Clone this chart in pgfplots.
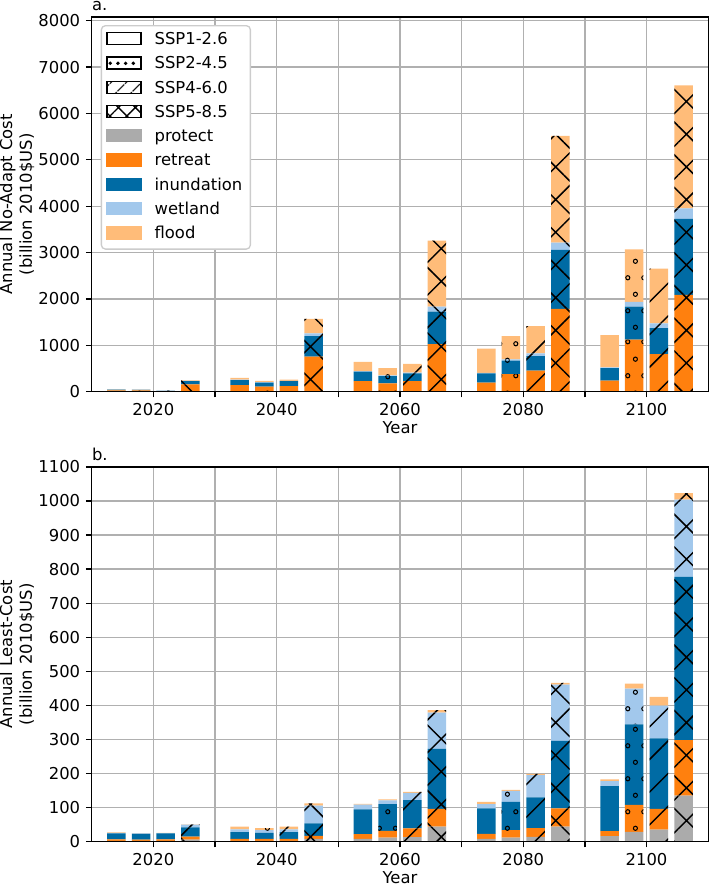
\documentclass[border=0pt]{standalone}
\usepackage{fontspec}
\setmainfont{DejaVu Sans}
\usepackage{pgfplots}
\pgfplotsset{compat=1.18}
\usepackage{pgfplotstable}
\usetikzlibrary{patterns.meta}

\definecolor{cprotect}{HTML}{ABABAB}
\definecolor{cretreat}{HTML}{FF800E}
\definecolor{cinund}{HTML}{006BA4}
\definecolor{cwet}{HTML}{A2C8EC}
\definecolor{cflood}{HTML}{FFBC79}
\definecolor{cgrid}{HTML}{B0B0B0}
\definecolor{clegframe}{HTML}{CCCCCC}

\tikzdeclarepattern{
  name=bigcircles,
  type=uncolored,
  bottom left={(0pt,0pt)},
  top right={(9.8pt,20.4pt)},
  tile size={(9.8pt,20.4pt)},
  code={
    \draw[line width=0.65pt] (2.45pt,5.1pt) circle[radius=1.3pt];
    \draw[line width=0.65pt] (7.35pt,15.3pt) circle[radius=1.3pt];
  }
}

\tikzset{
  hatchA/.style={},
  hatchB/.style={postaction={pattern=bigcircles,pattern color=black}},
  hatchC/.style={postaction={pattern={Lines[angle=45,distance=14.1pt,line width=0.9pt]},pattern color=black}},
  hatchD/.style={postaction={pattern={Hatch[angle=45,distance=14.1pt,line width=0.9pt]},pattern color=black}},
  legpatch/.style={sharp corners, line width=0.8pt},
}

% Panel a: annual no-adapt cost (billion 2010$US)
\pgfplotstableread{
x protect retreat inundation wetland flood
2014 0 30 12 3 5
2034 0 140 110 8 42
2054 0 230 200 15 200
2074 0 194 200 10 523
2094 0 237 273 15 697
}\aOne
\pgfplotstableread{
x protect retreat inundation wetland flood
2018 0 28 12 2 5
2038 0 110 85 10 30
2058 0 180 155 15 160
2078 0 381 288 28 503
2098 0 1121 712 101 1136
}\aTwo
\pgfplotstableread{
x protect retreat inundation wetland flood
2022 0 8 12 2 3
2042 0 120 105 10 25
2062 0 230 165 15 187
2082 0 453 316 58 589
2102 0 812 561 101 1179
}\aThree
\pgfplotstableread{
x protect retreat inundation wetland flood
2026 0 160 70 5 10
2046 0 755 445 58 310
2066 0 1028 697 108 1424
2086 0 1783 1272 158 2301
2106 0 2085 1639 230 2653
}\aFour

% Panel b: annual least-cost (billion 2010$US)
\pgfplotstableread{
x protect retreat inundation wetland flood
2014 2 5 17 2 1
2034 2 6 20 8 8
2054 8 14 73 14 2
2074 8 15 75 12 7
2094 16 15 132 15 5
}\bOne
\pgfplotstableread{
x protect retreat inundation wetland flood
2018 2 4 17 1 1
2038 2 6 18 8 6
2058 12 20 78 11 3
2078 12 22 83 32 3
2098 29 79 236 105 15
}\bTwo
\pgfplotstableread{
x protect retreat inundation wetland flood
2022 2 5 17 1 1
2042 2 6 20 8 8
2062 13 26 83 21 3
2082 14 26 90 65 4
2102 35 61 207 96 26
}\bThree
\pgfplotstableread{
x protect retreat inundation wetland flood
2026 6 9 27 8 1
2046 8 9 37 52 6
2066 44 52 176 107 7
2086 44 54 198 165 5
2106 135 163 479 227 19
}\bFour

\newcommand{\stackbars}[2]{%
  \addplot[fill=cprotect,draw=none,#2] table[x=x,y=protect]{#1};
  \addplot[fill=cretreat,draw=none,#2] table[x=x,y=retreat]{#1};
  \addplot[fill=cinund,draw=none,#2] table[x=x,y=inundation]{#1};
  \addplot[fill=cwet,draw=none,#2] table[x=x,y=wetland]{#1};
  \addplot[fill=cflood,draw=none,#2] table[x=x,y=flood]{#1};
}

\pgfplotsset{
  base/.style={
    width=376.1pt, height=228.6pt, scale only axis,
    xmin=2010, xmax=2110, ymin=0,
    ybar stacked, bar width=3,
  },
  frame/.style={
    grid=major, grid style={draw=cgrid, line width=0.8pt},
    tick align=outside, tick pos=left, major tick length=3.5pt,
    tick style={black, line width=0.8pt},
    axis line style={black, line width=0.8pt},
    xtick={2020,2030,...,2100},
    xticklabels={2020,{},2040,{},2060,{},2080,{},2100},
    xlabel={Year},
    xlabel style={yshift=3pt},
    every axis y label/.style={at={([xshift=-45.6pt]rel axis cs:0,0.5)}, rotate=90, anchor=center, align=center},
    /pgf/number format/1000 sep={},
    /pgf/number format/assume math mode=true,
    tick label style={font=\fontsize{10}{12}\selectfont},
    label style={font=\fontsize{10}{12}\selectfont},
    every axis title/.style={at={(rel axis cs:0,1)}, anchor=base west, inner sep=0pt, yshift=4pt, font=\fontsize{10}{12}\selectfont},
  },
  over/.style={hide axis},
}

\newcommand{\axisframe}{\draw[black,line width=0.8pt] (rel axis cs:0,0) rectangle (rel axis cs:1,1);}

\begin{document}
\begin{tikzpicture}
% ---------- panel a ----------
\begin{axis}[base, frame, ymax=8080, ytick={0,1000,...,8000},
  title={a.}, ylabel={Annual No-Adapt Cost\\(billion 2010\$US)},
  at={(55.94pt,-238.94pt)}, anchor=south west]
\stackbars{\aOne}{hatchA}
\end{axis}
\begin{axis}[base, over, ymax=8080, at={(55.94pt,-238.94pt)}, anchor=south west]
\stackbars{\aTwo}{hatchB}
\end{axis}
\begin{axis}[base, over, ymax=8080, at={(55.94pt,-238.94pt)}, anchor=south west]
\stackbars{\aThree}{hatchC}
\end{axis}
\begin{axis}[base, over, ymax=8080, at={(55.94pt,-238.94pt)}, anchor=south west]
\stackbars{\aFour}{hatchD}
\end{axis}
\begin{axis}[base, over, ymax=8080, clip=false, at={(55.94pt,-238.94pt)}, anchor=south west,
  legend style={at={(0.0146,0.9785)}, anchor=north west,
    draw=clegframe, line width=0.8pt, rounded corners=2.5pt, fill=white,
    inner xsep=3pt, inner ysep=2pt, column sep=6pt, row sep=0.9pt,
    font=\fontsize{10}{12}\selectfont,
    nodes={inner sep=2pt, text height=7.6pt, text depth=2.3pt}},
  legend cell align=left]
\addlegendimage{legend image code/.code={\draw[legpatch,black] (0pt,-2.7pt) rectangle (20.7pt,4.6pt);}}
\addlegendentry{SSP1-2.6}
\addlegendimage{legend image code/.code={\draw[legpatch,black] (0pt,-2.7pt) rectangle (20.7pt,4.6pt);
  \foreach \dx in {2,6.7,11.4,16.1}{\fill[black] (\dx pt,0.8pt) circle[radius=0.6pt];}}}
\addlegendentry{SSP2-4.5}
\addlegendimage{legend image code/.code={\draw[legpatch,black,pattern={Lines[angle=45,distance=6.5pt,line width=0.8pt]}] (0pt,-2.7pt) rectangle (20.7pt,4.6pt);}}
\addlegendentry{SSP4-6.0}
\addlegendimage{legend image code/.code={\draw[legpatch,black,pattern={Hatch[angle=45,distance=7.3pt,line width=0.8pt]}] (0pt,-2.7pt) rectangle (20.7pt,4.6pt);}}
\addlegendentry{SSP5-8.5}
\addlegendimage{legend image code/.code={\fill[legpatch,cprotect] (0pt,-2.7pt) rectangle (20.7pt,4.6pt);}}
\addlegendentry{protect}
\addlegendimage{legend image code/.code={\fill[legpatch,cretreat] (0pt,-2.7pt) rectangle (20.7pt,4.6pt);}}
\addlegendentry{retreat}
\addlegendimage{legend image code/.code={\fill[legpatch,cinund] (0pt,-2.7pt) rectangle (20.7pt,4.6pt);}}
\addlegendentry{inundation}
\addlegendimage{legend image code/.code={\fill[legpatch,cwet] (0pt,-2.7pt) rectangle (20.7pt,4.6pt);}}
\addlegendentry{wetland}
\addlegendimage{legend image code/.code={\fill[legpatch,cflood] (0pt,-2.7pt) rectangle (20.7pt,4.6pt);}}
\addlegendentry{flood}
\axisframe
\end{axis}
% ---------- panel b ----------
\begin{axis}[base, frame, ymax=1100, ytick={0,100,...,1100},
  title={b.}, ylabel={Annual Least-Cost\\(billion 2010\$US)},
  at={(55.94pt,-513.44pt)}, anchor=south west]
\stackbars{\bOne}{hatchA}
\end{axis}
\begin{axis}[base, over, ymax=1100, at={(55.94pt,-513.44pt)}, anchor=south west]
\stackbars{\bTwo}{hatchB}
\end{axis}
\begin{axis}[base, over, ymax=1100, at={(55.94pt,-513.44pt)}, anchor=south west]
\stackbars{\bThree}{hatchC}
\end{axis}
\begin{axis}[base, over, ymax=1100, at={(55.94pt,-513.44pt)}, anchor=south west]
\stackbars{\bFour}{hatchD}
\end{axis}
\begin{axis}[base, over, ymax=1100, clip=false, at={(55.94pt,-513.44pt)}, anchor=south west]
\axisframe
\end{axis}
\pgfresetboundingbox
\path[use as bounding box] (0,0) rectangle (432.5pt,-540.5pt);
\end{tikzpicture}
\end{document}
